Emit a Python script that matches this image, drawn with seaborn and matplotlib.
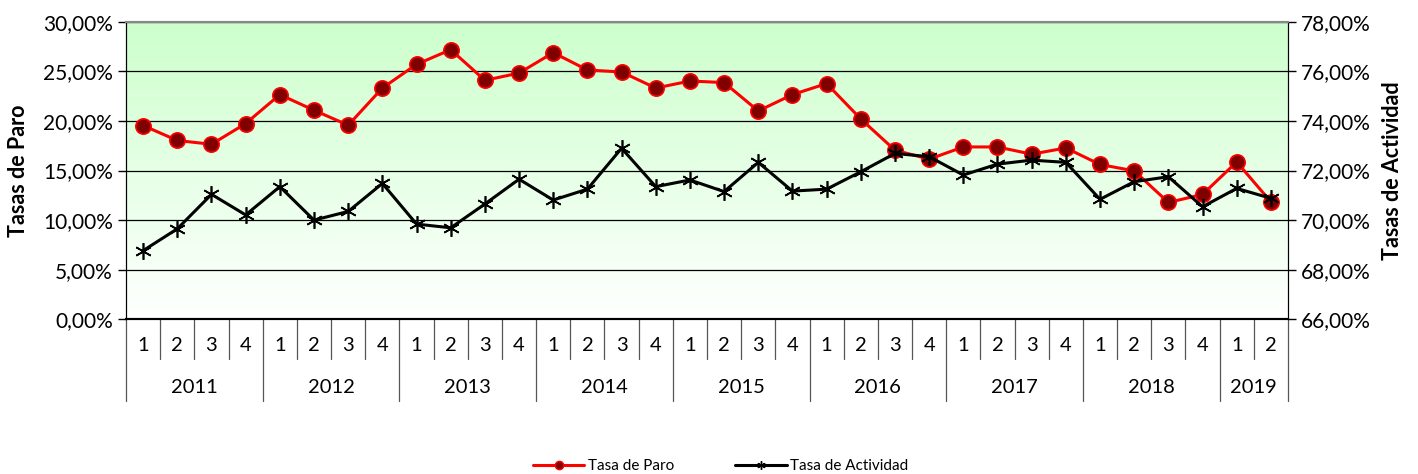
import numpy as np
import pandas as pd
import seaborn as sns
import matplotlib.pyplot as plt
from matplotlib.ticker import FuncFormatter, MultipleLocator
from matplotlib.lines import Line2D

years = ["2011", "2012", "2013", "2014", "2015", "2016", "2017", "2018", "2019"]
quarters_per_year = [4, 4, 4, 4, 4, 4, 4, 4, 2]

tasa_paro = [19.54, 18.03, 17.65, 19.74, 22.66, 21.08, 19.57, 23.32,
             25.71, 27.19, 24.10, 24.83, 26.89, 25.14, 24.94, 23.32,
             24.03, 23.87, 21.01, 22.66, 23.77, 20.20, 17.05, 16.15,
             17.38, 17.38, 16.65, 17.28, 15.61, 14.97, 11.78, 12.59,
             15.87, 11.84]

tasa_actividad = [68.77, 69.65, 71.04, 70.21, 71.35, 70.00, 70.35, 71.48,
                  69.84, 69.69, 70.65, 71.65, 70.81, 71.25, 72.90, 71.35,
                  71.62, 71.15, 72.33, 71.17, 71.25, 71.95, 72.69, 72.56,
                  71.82, 72.26, 72.42, 72.33, 70.84, 71.55, 71.75, 70.54,
                  71.28, 70.88]

quarter_labels = []
year_of = []
for y, n in zip(years, quarters_per_year):
    for q in range(1, n + 1):
        quarter_labels.append(str(q))
        year_of.append(y)

df = pd.DataFrame({"pos": np.arange(len(tasa_paro)),
                   "paro": tasa_paro, "actividad": tasa_actividad})

sns.set_style("white")
plt.rcParams["font.family"] = ["Lato", "DejaVu Sans"]
plt.rcParams["text.color"] = "black"
plt.rcParams["axes.labelcolor"] = "black"
plt.rcParams["xtick.color"] = "black"
plt.rcParams["ytick.color"] = "black"

fig = plt.figure(figsize=(14.18, 4.74), dpi=100)
ax = fig.add_axes([0.0889, 0.3264, 0.8194, 0.6276])
ax2 = ax.twinx()

# gradient background
grad = np.linspace(0, 1, 256).reshape(-1, 1)
top = np.array([0.80, 1.0, 0.80])
bot = np.array([1.0, 1.0, 1.0])
img = bot + (top - bot) * grad
ax.imshow(img[:, None, :].repeat(2, axis=1), origin="lower", aspect="auto",
          extent=[0, 1, 0, 1], transform=ax.transAxes, zorder=0)

n = len(tasa_paro)
ax.set_xlim(-0.5, n - 0.5)
ax.set_ylim(0, 30)
ax2.set_ylim(66, 78)
ax.yaxis.set_major_locator(MultipleLocator(5))
ax2.yaxis.set_major_locator(MultipleLocator(2))
fmt = FuncFormatter(lambda v, p: f"{v:.2f}%".replace(".", ","))
ax.yaxis.set_major_formatter(fmt)
ax2.yaxis.set_major_formatter(fmt)
ax.grid(axis="y", color="black", lw=0.9, zorder=1)
ax.set_axisbelow(False)

sns.lineplot(data=df, x="pos", y="paro", ax=ax, color="#FF0000", lw=2.2,
             marker="o", markersize=11, markerfacecolor="#800000",
             markeredgecolor="#FF0000", markeredgewidth=1.2, zorder=3)
sns.lineplot(data=df, x="pos", y="actividad", ax=ax2, color="black", lw=2.2,
             marker=(6, 2, 0), markersize=12, markeredgecolor="black",
             markeredgewidth=1.2, zorder=3)

ax.set_xlabel("")
ax.set_ylabel("Tasas de Paro", fontsize=15.5, fontweight="bold", labelpad=10)
ax2.set_ylabel("Tasas de Actividad", fontsize=15.5, fontweight="bold",
               rotation=90, labelpad=8)

# x ticks at category boundaries
ax.set_xticks(np.arange(n + 1) - 0.5)
ax.set_xticklabels([])
ax.tick_params(axis="x", direction="inout", length=12, width=1.2, color="black")
ax2.tick_params(axis="x", length=0)
ax.tick_params(axis="y", direction="out", length=6, width=1, labelsize=15, left=True)
ax2.tick_params(axis="y", direction="out", length=6, width=1, labelsize=15, right=True)

for a in (ax, ax2):
    for s in a.spines.values():
        s.set_visible(True)
    a.spines["top"].set_color("#888888")
    a.spines["top"].set_linewidth(1.5)
    a.spines["left"].set_color("black")
    a.spines["right"].set_color("black")
    a.spines["bottom"].set_color("black")
    a.spines["bottom"].set_linewidth(1.5)

trans = ax.get_xaxis_transform()
q_end = -0.135
y_end = -0.275
for i, lab in enumerate(quarter_labels):
    ax.text(i, -0.088, lab, transform=trans, ha="center", va="center", fontsize=14.5)
for i in range(n + 1):
    x = i - 0.5
    is_year_edge = i == 0 or i == n or year_of[i] != year_of[i - 1]
    ax.plot([x, x], [0, y_end if is_year_edge else q_end], transform=trans,
            color="#555555", lw=0.9, clip_on=False)
start = 0
for y, cnt in zip(years, quarters_per_year):
    ax.text(start + (cnt - 1) / 2, -0.228, y, transform=trans, ha="center",
            va="center", fontsize=14.5)
    start += cnt

handles = [Line2D([], [], color="#FF0000", lw=2.2, marker="o", markersize=6,
                  markerfacecolor="#800000", markeredgecolor="#FF0000"),
           Line2D([], [], color="black", lw=2.2, marker=(6, 2, 0), markersize=6)]
fig.legend(handles, ["Tasa de Paro", "Tasa de Actividad"], loc="center",
           bbox_to_anchor=(0.508, 0.017), ncol=2, frameon=False, fontsize=11,
           handlelength=3.4, handletextpad=0.2, columnspacing=4.0)

fig.savefig("out.png", dpi=100)
